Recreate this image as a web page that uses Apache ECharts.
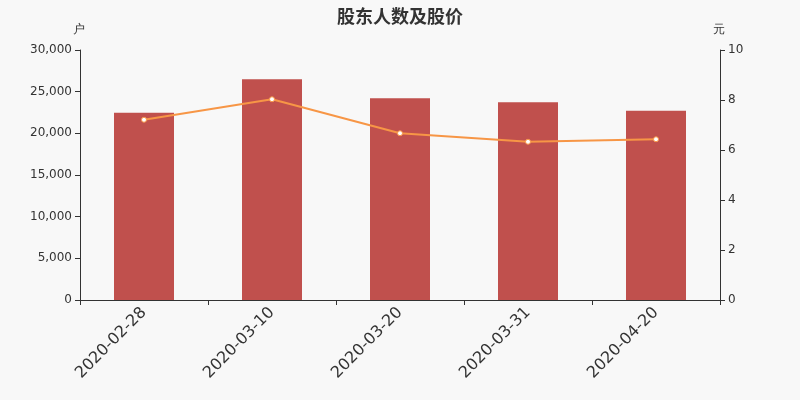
<!DOCTYPE html>
<html>
<head>
<meta charset="utf-8">
<script src="https://cdn.jsdelivr.net/npm/echarts@6/dist/echarts.min.js"></script>
<style>
html, body { margin: 0; padding: 0; background: #f8f8f8; }
#chart { width: 800px; height: 400px; }
</style>
</head>
<body>
<div id="chart"></div>
<script>
var dates = ["2020-02-28", "2020-03-10", "2020-03-20", "2020-03-31", "2020-04-20"];
var holders = [22480, 26480, 24200, 23720, 22700];
var prices = [7.21, 8.03, 6.67, 6.33, 6.43];

var axisColor = "#333";
var myChart = echarts.init(document.getElementById('chart'));
var option = {
    backgroundColor: "#f8f8f8",
    textStyle: { fontFamily: "DejaVu Sans" },
    title: {
        text: '股东人数及股价',
        left: 'center',
        top: 2,
        textStyle: { fontSize: 18, fontWeight: 'bold', color: '#333', fontFamily: "Noto Sans CJK SC" }
    },
    grid: { left: 80, right: 80, top: 50, bottom: 100 },
    xAxis: {
        type: 'category',
        data: dates,
        axisLine: { lineStyle: { color: axisColor } },
        axisTick: { show: true, alignWithLabel: false },
        axisLabel: { rotate: 45, fontSize: 16, color: axisColor, margin: 10 }
    },
    yAxis: [{
        type: 'value',
        name: '户',
        nameGap: 14,
        nameTextStyle: { color: axisColor, fontSize: 12, padding: [0, 0, 0, -2] },
        min: 0, max: 30000, interval: 5000,
        splitLine: { show: false },
        axisLine: { show: true, lineStyle: { color: axisColor } },
        axisTick: { show: true },
        axisLabel: { color: axisColor, fontSize: 12, formatter: function (v) { return v.toLocaleString('en-US'); } }
    }, {
        type: 'value',
        name: '元',
        nameGap: 14,
        nameTextStyle: { color: axisColor, fontSize: 12, padding: [0, 0, 0, -2] },
        min: 0, max: 10, interval: 2,
        splitLine: { show: false },
        axisLine: { show: true, lineStyle: { color: axisColor } },
        axisTick: { show: true },
        axisLabel: { color: axisColor, fontSize: 12 }
    }],
    series: [{
        name: '股东人数',
        type: 'bar',
        data: holders,
        barWidth: 60,
        itemStyle: { color: '#c0504d' }
    }, {
        name: '股价',
        type: 'line',
        yAxisIndex: 1,
        data: prices,
        symbol: 'circle',
        symbolSize: 5,
        lineStyle: { color: '#f79646', width: 2 },
        itemStyle: { color: '#fff', borderColor: '#f79646', borderWidth: 1 }
    }]
};
myChart.setOption(option);
</script>
</body>
</html>
